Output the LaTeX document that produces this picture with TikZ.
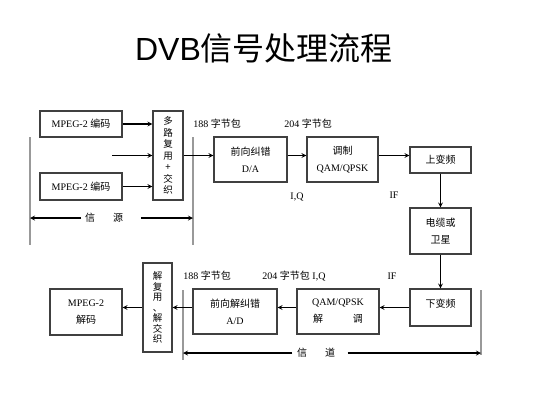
\documentclass[tikz,border=0pt]{standalone}
\usepackage{fontspec}
\setmainfont{Liberation Serif}
\newfontfamily\cjk{Noto Sans CJK SC}
\newfontfamily\titlefont{Liberation Sans}
\usetikzlibrary{shapes}

\begin{document}
\begin{tikzpicture}[->,>=stealth,x=1pt,y=-1pt,line width=1.2pt,
        font=\fontsize{10}{12}\selectfont,
        box/.style={rectangle,draw=black!75,line width=1.1pt,inner sep=0pt,align=center},
        vbox/.style={box,font=\cjk\fontsize{9.5}{11.5}\selectfont},
        bar/.style={-,draw=black!40,line width=1.1pt}]
    \useasboundingbox (0,0) rectangle (533,400);
    \node (title) at (264,48) {\titlefont\fontsize{32}{38}\selectfont DVB\cjk 信号处理流程};
    % source side
    \node[box,minimum width=82pt,minimum height=26pt] (enc1) at (81,124) {MPEG-2 {\cjk 编码}};
    \node[box,minimum width=82pt,minimum height=27pt] (enc2) at (81,186.5) {MPEG-2 {\cjk 编码}};
    \node[vbox,minimum width=30pt,minimum height=89pt] (mux) at (168,155.5) {多\\路\\复\\用\\+\\交\\织};
    \node[box,minimum width=73pt,minimum height=45pt] (fec) at (250.5,159.5) {{\cjk 前向纠错}\\[5pt]D/A};
    \node[box,minimum width=71pt,minimum height=45pt] (mod) at (342.5,159.5) {{\cjk 调制}\\[5pt]QAM/QPSK};
    \node[box,minimum width=61pt,minimum height=26pt] (up) at (440.5,160) {\cjk 上变频};
    \node[box,minimum width=61pt,minimum height=46pt] (med) at (440.5,231) {{\cjk 电缆或}\\[5pt]{\cjk 卫星}};
    % sink side
    \node[box,minimum width=61pt,minimum height=37pt,text depth=9pt] (down) at (440.5,307.5) {\cjk 下变频};
    \node[box,minimum width=82pt,minimum height=45pt] (demod) at (338,311.5) {QAM/QPSK\\[5pt]{\cjk 解\hspace{30pt}调}};
    \node[box,minimum width=84pt,minimum height=45pt] (dfec) at (235,311.5) {{\cjk 前向解纠错}\\[5pt]A/D};
    \node[vbox,minimum width=29pt,minimum height=89pt,font=\cjk\fontsize{9.5}{10.5}\selectfont] (demux) at (157.5,307.5) {解\\复\\用\\、\\解\\交\\织};
    \node[box,minimum width=72pt,minimum height=46pt] (dec) at (86,312) {MPEG-2\\[5pt]{\cjk 解码}};
    \tikzstyle{every node}=[font=\fontsize{10}{12}\selectfont]
    \node (pk188a) at (217,124) {188 {\cjk 字节包}};
    \node (pk204a) at (308,124) {204 {\cjk 字节包}};
    \node (iqa) at (297,197) {I,Q};
    \node (ifa) at (394,195) {IF};
    \node (pk188b) at (207,276) {188 {\cjk 字节包}};
    \node (pk204b) at (294,276) {204 {\cjk 字节包} I,Q};
    \node (ifb) at (392,276) {IF};
    \node (src) at (104,218) {{\cjk 信}\hspace{18pt}{\cjk 源}};
    \node[inner sep=4pt] (chan) at (316,353) {{\cjk 信}\hspace{18pt}{\cjk 道}};
    \coordinate (in3) at (112,155.5);
    \coordinate (srcLt) at (30,137);
    \coordinate (srcLb) at (30,245);
    \coordinate (srcRt) at (193,137);
    \coordinate (srcRb) at (193,245);
    \coordinate (chLt) at (183,290);
    \coordinate (chLb) at (183,360);
    \coordinate (chRt) at (481,290);
    \coordinate (chRb) at (481,355);
    \draw[bar] (srcLt) -- (srcLb);
    \draw[bar] (srcRt) -- (srcRb);
    \draw[bar] (chLt) -- (chLb);
    \draw[bar] (chRt) -- (chRb);
    \path
        (enc1.east) edge (enc1.east -| mux.west)
        (in3) edge (in3 -| mux.west)
        (enc2.east) edge (enc2.east -| mux.west)
        (mux.east) edge (mux.east -| fec.west)
        (mux.east -| fec.east) edge (mux.east -| mod.west)
        (mux.east -| mod.east) edge (mux.east -| up.west)
        (up) edge (med)
        (med) edge (down)
        (down.west) edge (down.west -| demod.east)
        (down.west -| demod.west) edge (down.west -| dfec.east)
        (down.west -| dfec.west) edge (down.west -| demux.east)
        (down.west -| demux.west) edge (down.west -| dec.east)
        (src.west) edge (src.west -| srcLt)
        ([xshift=14pt]src.east) edge (src.east -| srcRt)
        (chan.west) edge (chan.west -| chLt)
        ([xshift=8pt]chan.east) edge (chan.east -| chRt);
\end{tikzpicture}
\end{document}
